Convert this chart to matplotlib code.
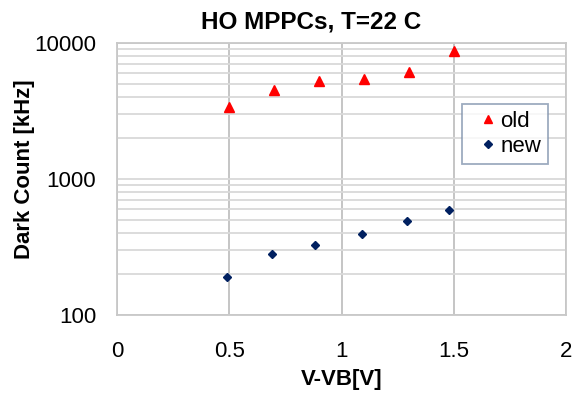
import matplotlib
matplotlib.use("Agg")
import matplotlib.pyplot as plt
from matplotlib.ticker import FixedLocator, LogLocator, NullFormatter

plt.rcParams['font.family'] = ['Liberation Sans', 'DejaVu Sans']

x_old = [0.5, 0.7, 0.9, 1.1, 1.3, 1.5]
y_old = [3400, 4500, 5280, 5400, 6150, 8780]
x_new = [0.49, 0.69, 0.88, 1.09, 1.29, 1.48]
y_new = [189, 282, 327, 394, 493, 589]
x_ticks = [0, 0.5, 1, 1.5, 2]
x_tick_labels = ["0", "0.5", "1", "1.5", "2"]
y_ticks = [100, 1000, 10000]
y_tick_labels = ["100", "1000", "10000"]

W, H = 574, 395
fig = plt.figure(figsize=(W/100, H/100), dpi=100)
ax = fig.add_axes([117/W, 80/H, 449/W, 272/H])

ax.set_yscale('log')
ax.set_xlim(0, 2)
ax.set_ylim(100, 10000)

ax.yaxis.set_major_locator(FixedLocator(y_ticks))
ax.set_yticklabels(y_tick_labels)
ax.yaxis.set_minor_locator(LogLocator(base=10, subs=range(2, 10)))
ax.yaxis.set_minor_formatter(NullFormatter())
ax.set_xticks(x_ticks)
ax.set_xticklabels(x_tick_labels)

ax.grid(True, which='major', axis='y', color='#d9d9d9', lw=1.3)
ax.grid(True, which='minor', axis='y', color='#d9d9d9', lw=1.3)
ax.grid(True, which='major', axis='x', color='#c0c0c0', lw=1.3)
ax.set_axisbelow(True)
for s in ax.spines.values():
    s.set_color('#c8c8c8')
    s.set_linewidth(1.3)

ax.tick_params(axis='both', which='both', length=0, labelsize=16, colors='#000000')
ax.tick_params(axis='x', pad=19)
ax.tick_params(axis='y', pad=15)

ax.plot(x_old, y_old, linestyle='none', marker='^', ms=6.5, color='#ff0000',
        label='old', zorder=3)
ax.plot(x_new, y_new, linestyle='none', marker='D', ms=4.3, color='#002060',
        label='new', zorder=3)

leg = ax.legend(loc='upper right', bbox_to_anchor=(0.960, 0.776), fontsize=16,
                frameon=True, fancybox=False, edgecolor='#8496b0',
                handlelength=1.74, handletextpad=-0.3, borderpad=0.3,
                labelspacing=0.2, borderaxespad=0, markerscale=0.9)
leg.get_frame().set_linewidth(1.3)

fig.text(311/W, 1 - 28/H, 'HO MPPCs, T=22 C', fontsize=17.5, fontweight='bold',
         ha='center', va='baseline')
ax.set_xlabel('V-VB[V]', fontsize=16, fontweight='bold', labelpad=5)
fig.text(25/W, 1 - 169/H, 'Dark Count [kHz]', fontsize=16, fontweight='bold',
         rotation=90, ha='center', va='center')

fig.savefig('out.png', dpi=100)
